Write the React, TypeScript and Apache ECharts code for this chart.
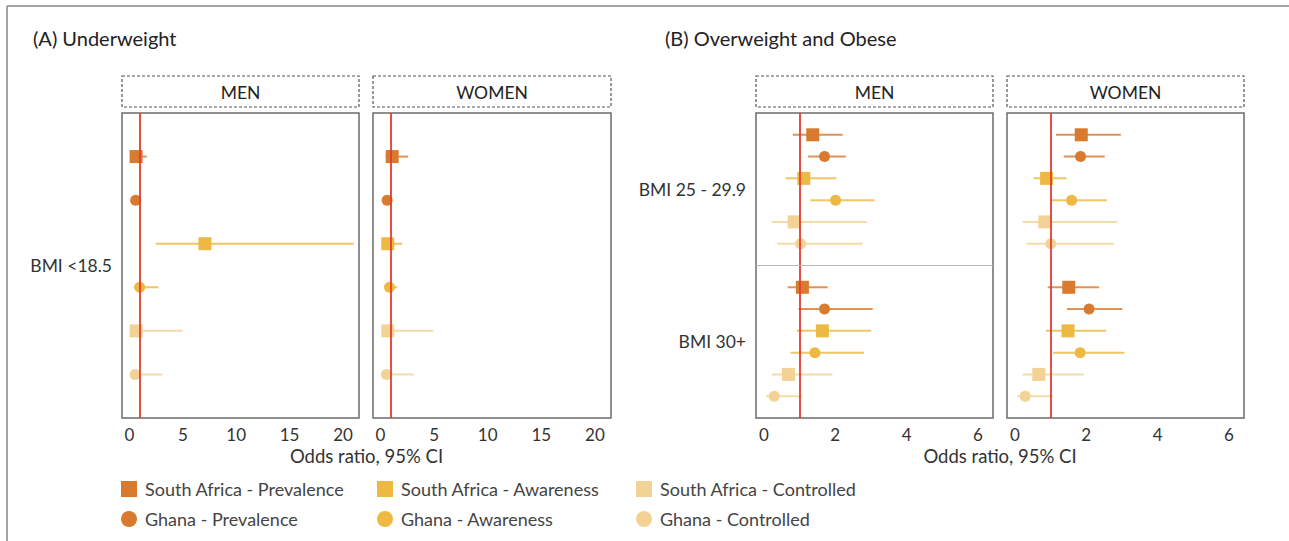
import React, { useEffect, useRef } from "react";
import * as echarts from "echarts";

// ---------- data ----------
const groups = [
  "South Africa - Prevalence",
  "Ghana - Prevalence",
  "South Africa - Awareness",
  "Ghana - Awareness",
  "South Africa - Controlled",
  "Ghana - Controlled",
];
const groupColors = ["#D97B2E", "#D97B2E", "#EDB943", "#EDB943", "#F3D395", "#F3D395"];
const groupSymbols = ["rect", "circle", "rect", "circle", "rect", "circle"];

const panelTitles = ["(A) Underweight", "(B) Overweight and Obese"];
const stripLabels = ["MEN", "WOMEN", "MEN", "WOMEN"];
const xAxisTitle = "Odds ratio, 95% CI";
const bmiUnder = ["BMI <18.5"];
const bmiOver = ["BMI 25 - 29.9", "BMI 30+"];
const ticksA = [0, 5, 10, 15, 20];
const ticksB = [0, 2, 4, 6];

// (A) Underweight
const underMenEst = [0.62, 0.58, 7.07, 0.96, 0.62, 0.53];
const underMenLo = [0.3, 0.4, 2.45, 0.39, 0.2, 0.1];
const underMenHi = [1.61, 0.75, 21.0, 2.72, 5.0, 3.08];
const underWomenEst = [1.09, 0.62, 0.68, 0.84, 0.68, 0.56];
const underWomenLo = [0.47, 0.45, 0.16, 0.31, 0.1, 0.2];
const underWomenHi = [2.58, 0.8, 2.02, 1.55, 4.95, 3.1];

// (B) Overweight (25-29.9) and Obese (30+)
const overMen25Est = [1.37, 1.7, 1.12, 2.01, 0.85, 1.03];
const overMen25Lo = [0.81, 1.24, 0.61, 1.3, 0.23, 0.38];
const overMen25Hi = [2.21, 2.3, 2.03, 3.1, 2.88, 2.76];
const overMen30Est = [1.08, 1.7, 1.64, 1.43, 0.69, 0.29];
const overMen30Lo = [0.67, 0.97, 0.92, 0.75, 0.23, 0.06];
const overMen30Hi = [1.79, 3.05, 3.01, 2.81, 1.92, 1.06];
const overWomen25Est = [1.86, 1.84, 0.89, 1.59, 0.84, 1.01];
const overWomen25Lo = [1.15, 1.37, 0.52, 1.03, 0.22, 0.33];
const overWomen25Hi = [2.97, 2.52, 1.45, 2.58, 2.87, 2.78];
const overWomen30Est = [1.51, 2.08, 1.49, 1.83, 0.67, 0.29];
const overWomen30Lo = [0.92, 1.46, 0.87, 1.07, 0.22, 0.07];
const overWomen30Hi = [2.36, 3.01, 2.56, 3.07, 1.93, 1.07];

// ---------- layout ----------
const FONT = "Lato, 'Open Sans', sans-serif";
const GRID_TOP = 113;
const GRID_H = 305;
const grids = [
  { left: 122, width: 237 },
  { left: 373, width: 238 },
  { left: 756, width: 237 },
  { left: 1007, width: 237 },
];

type Block = { est: number[]; lo: number[]; hi: number[]; offset: number };
const panels: { blocks: Block[]; range: [number, number]; ticks: number[]; ymax: number; labels: string[] | null; sep: boolean }[] = [
  { blocks: [{ est: underMenEst, lo: underMenLo, hi: underMenHi, offset: 1 }], range: [-0.7, 21.5], ticks: ticksA, ymax: 7, labels: bmiUnder, sep: false },
  { blocks: [{ est: underWomenEst, lo: underWomenLo, hi: underWomenHi, offset: 1 }], range: [-0.7, 21.5], ticks: ticksA, ymax: 7, labels: null, sep: false },
  {
    blocks: [
      { est: overMen25Est, lo: overMen25Lo, hi: overMen25Hi, offset: 1 },
      { est: overMen30Est, lo: overMen30Lo, hi: overMen30Hi, offset: 8 },
    ],
    range: [-0.22, 6.42], ticks: ticksB, ymax: 14, labels: bmiOver, sep: true,
  },
  {
    blocks: [
      { est: overWomen25Est, lo: overWomen25Lo, hi: overWomen25Hi, offset: 1 },
      { est: overWomen30Est, lo: overWomen30Lo, hi: overWomen30Hi, offset: 8 },
    ],
    range: [-0.22, 6.42], ticks: ticksB, ymax: 14, labels: null, sep: false,
  },
];

function buildOption() {
  const grid = grids.map((g) => ({
    left: g.left, top: GRID_TOP, width: g.width, height: GRID_H,
    show: true, borderColor: "#6b6b6b", borderWidth: 1.5, backgroundColor: "#fff",
  }));
  const xAxis = panels.map((p, i) => ({
    type: "value", gridIndex: i, min: p.range[0], max: p.range[1],
    axisLine: { show: false }, axisTick: { show: false }, splitLine: { show: false },
    axisLabel: { customValues: p.ticks, margin: 8, fontSize: 17, color: "#333", fontFamily: FONT },
  }));
  const yAxis = panels.map((p, i) => ({
    type: "value", gridIndex: i, min: 0, max: p.ymax, interval: 3.5, inverse: true,
    axisLine: { show: false }, axisTick: { show: false }, splitLine: { show: false },
    axisLabel: {
      show: !!p.labels, margin: 10, fontSize: 17.5, color: "#333", fontFamily: FONT,
      formatter: (v: number) => {
        if (!p.labels) return "";
        if (Math.abs(v - 3.5) < 1e-6) return p.labels[0];
        if (Math.abs(v - 10.5) < 1e-6 && p.labels[1]) return p.labels[1];
        return "";
      },
    },
  }));

  const series: any[] = [];
  panels.forEach((p, pi) => {
    const ciData: number[][] = [];
    p.blocks.forEach((b) => {
      b.est.forEach((_, r) => ciData.push([b.lo[r], b.hi[r], b.offset + r, r]));
    });
    const markData: any[] = [{ xAxis: 1, lineStyle: { color: "#E63B2E", width: 1.8, type: "solid" } }];
    if (p.sep) markData.push({ yAxis: 7, lineStyle: { color: "#b8b8b8", width: 1.2, type: "solid" } });
    series.push({
      type: "custom", name: "ci-" + pi, xAxisIndex: pi, yAxisIndex: pi, z: 2,
      encode: { x: [0, 1], y: 2 },
      data: ciData,
      renderItem: (params: any, api: any) => {
        const a = api.coord([api.value(0), api.value(2)]);
        const b = api.coord([api.value(1), api.value(2)]);
        const g = api.value(3) as number;
        return {
          type: "line",
          shape: { x1: a[0], y1: a[1], x2: b[0], y2: b[1] },
          style: { stroke: groupColors[g], lineWidth: 2, opacity: 0.82 },
        };
      },
      markLine: { silent: true, symbol: "none", label: { show: false }, data: markData },
    });
    groups.forEach((name, gi) => {
      const pts = p.blocks.map((b) => [b.est[gi], b.offset + gi]);
      series.push({
        type: "scatter", name, xAxisIndex: pi, yAxisIndex: pi, z: 3,
        symbol: groupSymbols[gi], symbolSize: groupSymbols[gi] === "rect" ? 13 : 11,
        itemStyle: { color: groupColors[gi], opacity: 1 },
        data: pts,
      });
    });
  });

  const legendX = [121, 377, 636];
  const legendY = [480, 510];
  const legendOrder = [0, 2, 4, 1, 3, 5];
  const legend = legendOrder.map((gi, k) => ({
    data: [groups[gi]],
    left: legendX[k % 3],
    top: legendY[Math.floor(k / 3)],
    padding: 0,
    itemWidth: 16,
    itemHeight: 16,
    icon: groupSymbols[gi],
    selectedMode: false,
    textStyle: { fontSize: 18, color: "#444", fontFamily: FONT, padding: [0, 0, 0, 3] },
  }));

  const graphic: any[] = [
    { type: "line", shape: { x1: 7, y1: 6, x2: 1289, y2: 6 }, style: { stroke: "#a3a3a3", lineWidth: 2 } },
    { type: "line", shape: { x1: 7, y1: 6, x2: 7, y2: 541 }, style: { stroke: "#a3a3a3", lineWidth: 2 } },
  ];
  grids.forEach((g, i) => {
    graphic.push({
      type: "rect", shape: { x: g.left, y: 76, width: g.width, height: 31 },
      style: { fill: "#fff", stroke: "#555", lineWidth: 1.2, lineDash: [3, 2] },
    });
    graphic.push({
      type: "text", x: g.left + g.width / 2, y: 92,
      style: { text: stripLabels[i], font: `17.5px ${FONT}`, fill: "#222", align: "center", verticalAlign: "middle" },
    });
  });
  graphic.push({
    type: "text", x: (grids[0].left + grids[1].left + grids[1].width) / 2, y: 456,
    style: { text: xAxisTitle, font: `18.5px ${FONT}`, fill: "#333", align: "center", verticalAlign: "middle" },
  });
  graphic.push({
    type: "text", x: (grids[2].left + grids[3].left + grids[3].width) / 2, y: 456,
    style: { text: xAxisTitle, font: `18.5px ${FONT}`, fill: "#333", align: "center", verticalAlign: "middle" },
  });

  return {
    animation: false,
    backgroundColor: "#fff",
    title: [
      { text: panelTitles[0], left: 33, top: 28, padding: 0, textStyle: { fontSize: 20, fontWeight: "normal", color: "#222", fontFamily: FONT } },
      { text: panelTitles[1], left: 665, top: 28, padding: 0, textStyle: { fontSize: 20, fontWeight: "normal", color: "#222", fontFamily: FONT } },
    ],
    grid, xAxis, yAxis, series, legend, graphic,
  };
}

export default function App() {
  const ref = useRef<HTMLDivElement>(null);
  useEffect(() => {
    document.body.style.margin = "0";
    const chart = echarts.init(ref.current!, null, { renderer: "svg" });
    chart.setOption(buildOption() as any);
    return () => chart.dispose();
  }, []);
  return <div ref={ref} style={{ width: 1289, height: 541 }} />;
}
